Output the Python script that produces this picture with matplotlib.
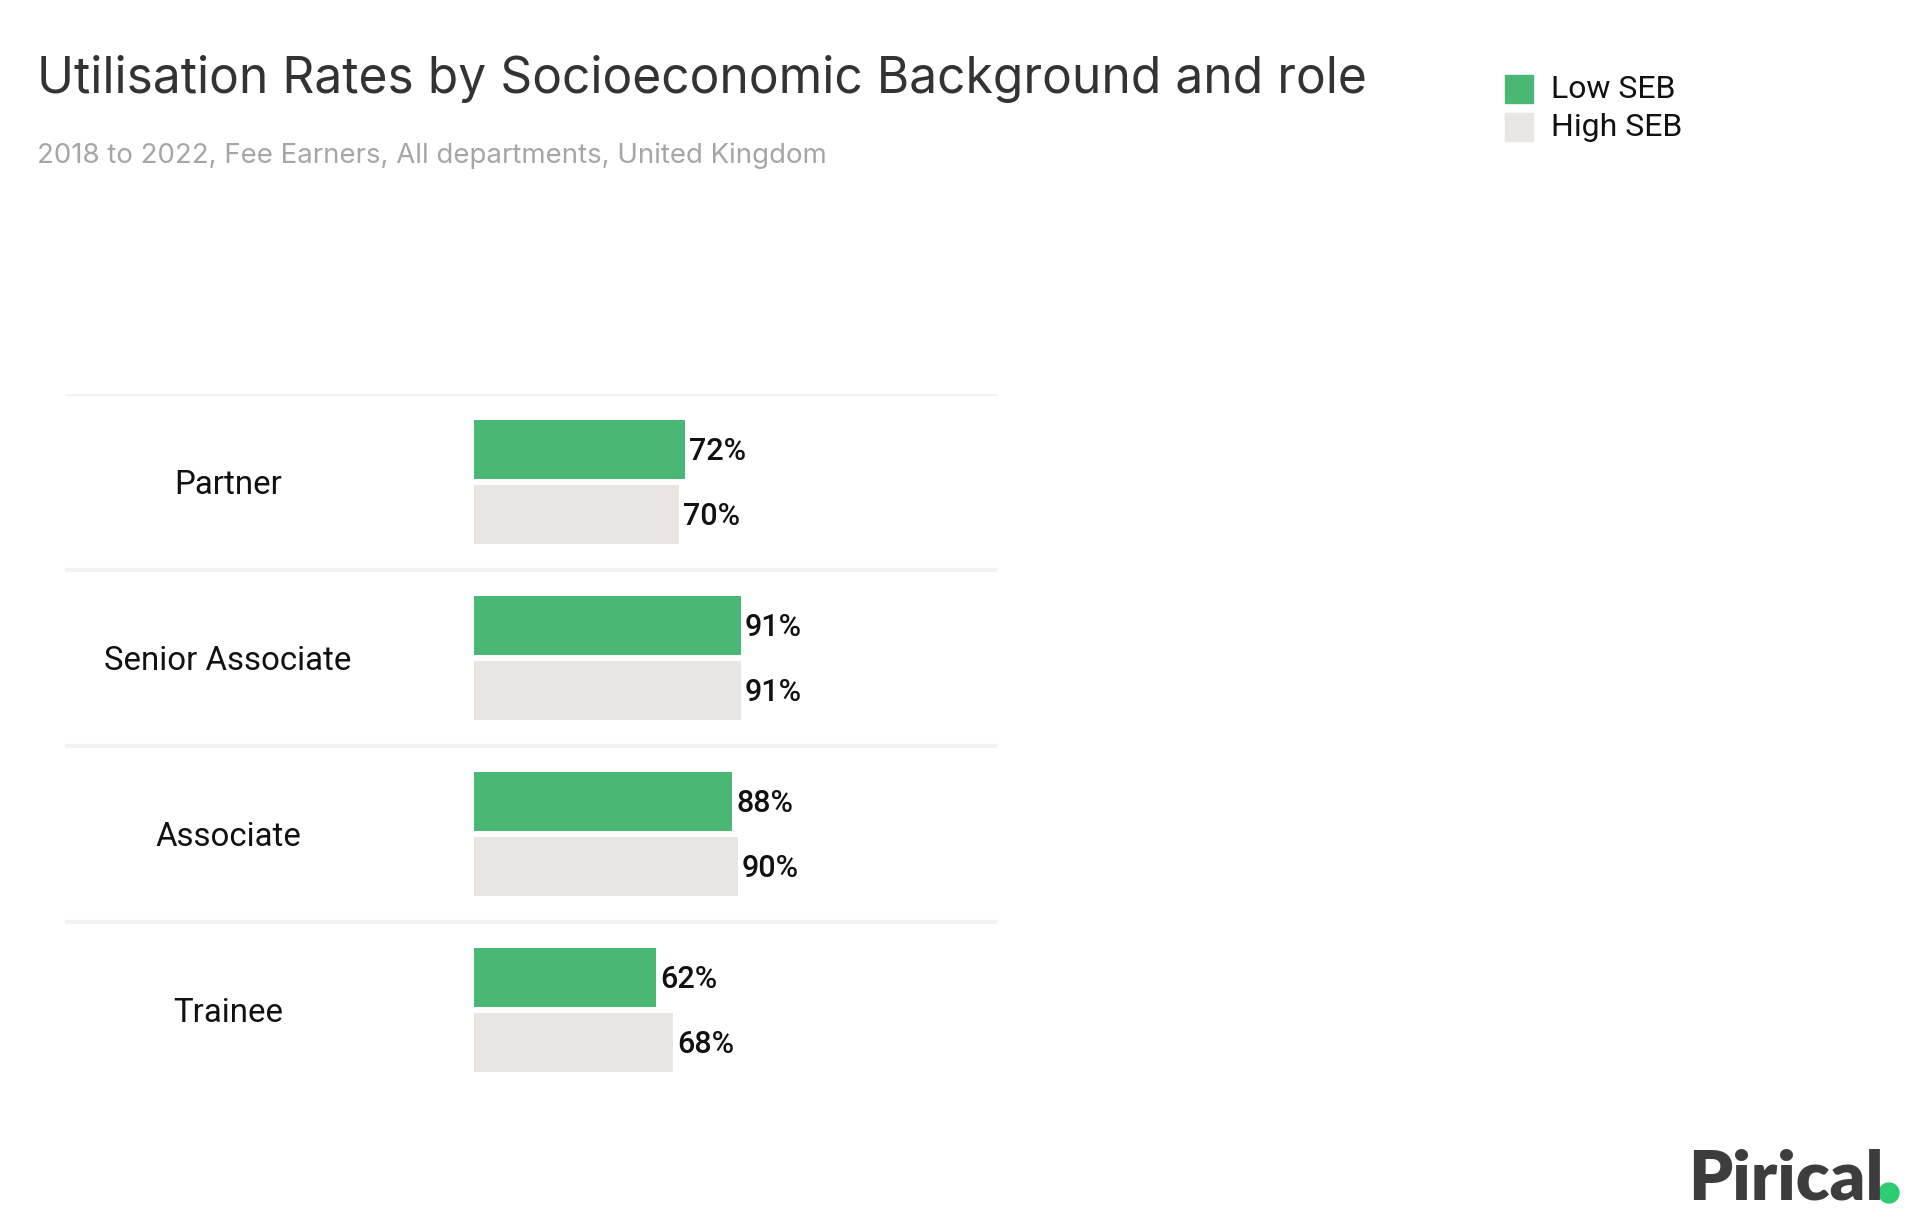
import matplotlib.pyplot as plt
from matplotlib.patches import Ellipse

roles = ["Partner", "Senior Associate", "Associate", "Trainee"]
low_seb = [72, 91, 88, 62]
high_seb = [70, 91, 90, 68]
series_names = ["Low SEB", "High SEB"]

green = "#4ab874"
grey = "#e8e5e2"

W, H = 1920, 1229
fig = plt.figure(figsize=(W / 100, H / 100), dpi=100)

# axes placed in pixel terms so the bands line up with the reference
left_px, right_px, top_px, bot_px = 65, 997, 394, 1098
zero_px, px_per_pct = 474, 2.93
ax = fig.add_axes([left_px / W, 1 - bot_px / H, (right_px - left_px) / W, (bot_px - top_px) / H])
ax.set_xlim(-(zero_px - left_px) / px_per_pct, (right_px - zero_px) / px_per_pct)
ax.set_ylim(len(roles), 0)
ax.axis("off")

bar_h = 0.34
off = 0.185
for i, role in enumerate(roles):
    yc = i + 0.5
    ax.axhline(i, color="#f2f2f2", lw=3, zorder=0)
    ax.barh(yc - off, low_seb[i], height=bar_h, color=green, zorder=2)
    ax.barh(yc + off, high_seb[i], height=bar_h, color=grey, zorder=2)
    ax.text(low_seb[i] + 1.5, yc - off + 0.01, f"{low_seb[i]}%", va="center", ha="left",
            fontsize=22, family="Roboto", color="#111111", fontweight="medium")
    ax.text(high_seb[i] + 1.5, yc + off + 0.01, f"{high_seb[i]}%", va="center", ha="left",
            fontsize=22, family="Roboto", color="#111111", fontweight="medium")
    ax.text((228 - left_px) / (right_px - left_px), yc + 0.015, role, va="center", ha="center",
            fontsize=23.8, family="Roboto", color="#111111",
            transform=ax.get_yaxis_transform())

# title and subtitle
fig.text(37 / W, 1 - 79 / H, "Utilisation Rates by Socioeconomic Background and role",
         fontsize=35.8, family="Inter", color="#333333", va="center", ha="left")
fig.text(37 / W, 1 - 156 / H, "2018 to 2022, Fee Earners, All departments, United Kingdom",
         fontsize=19.9, family="Inter", color="#a6a6a6", va="center", ha="left")

# legend
for name, col, yc in [(series_names[0], green, 89), (series_names[1], grey, 127)]:
    fig.patches.append(plt.Rectangle((1505 / W, 1 - (yc + 14) / H), 28 / W, 28 / H,
                                     transform=fig.transFigure, color=col))
    fig.text(1551 / W, 1 - yc / H, name, fontsize=23, family="Roboto", color="#111111",
             va="center", ha="left")

# logo
fig.text(1688 / W, 1 - 1200 / H, "Pirical", fontsize=50, family="Lato", fontweight="heavy",
         color="#3d3d3d", va="baseline", ha="left")
fig.patches.append(Ellipse((1889 / W, 1 - 1193 / H), 20 / W, 20 / H,
                           transform=fig.transFigure, color="#2ecc71"))

fig.savefig("out.png", dpi=100, facecolor="white")
